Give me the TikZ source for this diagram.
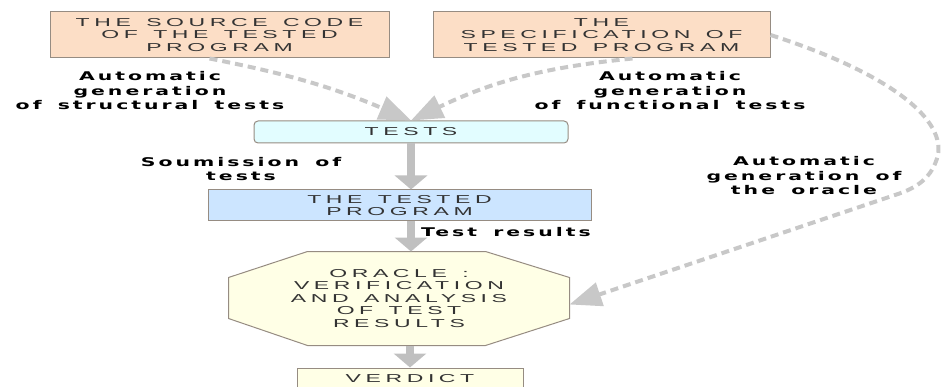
\documentclass[tikz,border=0pt]{standalone}
\usepackage{fontspec}
\setmainfont{Liberation Sans}
\newfontfamily\boxfont[FakeStretch=2.0,LetterSpace=40,WordSpace=1.4]{Liberation Sans}
\newfontfamily\labfont[FakeStretch=1.7,LetterSpace=25,WordSpace=1.6]{DejaVu Sans Bold}
\usetikzlibrary{arrows.meta,backgrounds}
\definecolor{peach}{RGB}{252,222,198}
\definecolor{iceblue}{RGB}{226,253,255}
\definecolor{progblue}{RGB}{204,229,255}
\definecolor{ivory}{RGB}{255,255,230}
\definecolor{boxline}{RGB}{150,140,130}
\definecolor{flowgray}{RGB}{192,192,192}
\definecolor{dashgray}{RGB}{200,200,200}
\begin{document}
\begin{tikzpicture}[x=1pt,y=-1pt]
  \tikzset{ box/.style={draw=boxline,line width=1pt,align=center,inner sep=0pt,text=black!80,
      font=\boxfont\fontsize{11.5}{12.5}\selectfont},
    lab/.style={align=center,inner sep=0pt,font=\labfont\fontsize{12}{14.5}\selectfont},
    flow/.style={line width=8pt,flowgray,-{Triangle[width=32pt,length=14pt]}},
    gen/.style={line width=4pt,dashgray,dash pattern=on 8pt off 5pt,-{Triangle[width=24pt,length=32pt]}},
  }
  \useasboundingbox (0,0) rectangle (941,387);

  \node (src) at (219.5,35) [box,fill=peach,minimum width=339pt,minimum height=46pt] {THE SOURCE CODE\\OF THE TESTED\\PROGRAM};
  \node (spec) at (601.5,35) [box,fill=peach,minimum width=337pt,minimum height=46pt] {THE\\SPECIFICATION OF\\TESTED PROGRAM};
  \node (tests) at (411,132) [box,fill=iceblue,rounded corners=4pt,minimum width=314pt,minimum height=22pt] {TESTS};
  \node (prog) at (399.5,205.5) [box,fill=progblue,minimum width=383pt,minimum height=31pt] {THE TESTED\\PROGRAM};
  \node (oracle) at (399,298.5) [box,draw=none,minimum width=340pt,minimum height=93pt] {ORACLE :\\VERIFICATION\\AND ANALYSIS\\OF TEST\\RESULTS};
  \node (verdict) at (410,379) [box,fill=ivory,minimum width=226pt,minimum height=22pt] {VERDICT};

  % octagon behind the oracle text
  \begin{scope}[on background layer]
    \draw[boxline,line width=1pt,fill=ivory]
      ([xshift=79pt]oracle.north west) -- ([xshift=-84pt]oracle.north east)
      -- ([yshift=-26pt]oracle.north east) -- ([yshift=27pt]oracle.south east)
      -- ([xshift=-84pt]oracle.south east) -- ([xshift=79pt]oracle.south west)
      -- ([yshift=27pt]oracle.south west) -- ([yshift=-26pt]oracle.north west) -- cycle;
  \end{scope}

  \node (labstruct) at (150,91) [lab] {Automatic\\generation\\of structural tests};
  \node (labfunc) at (670,91) [lab] {Automatic\\generation\\of functional tests};
  \node (labsub) at (241,169) [lab] {Soumission of\\tests};
  \node (laboracle) at (804,176) [lab] {Automatic\\generation of\\the oracle};
  \node (labres) at (421,232) [lab,anchor=west] {Test results};

  \draw[gen] ([xshift=-10pt]src.south) to[bend left=6] (tests.north);
  \draw[gen] ([xshift=31pt]spec.south) to[bend right=10] (tests.north);
  \draw[gen] (spec.east) .. controls (880,70) and (945,115) .. (938,155)
    .. controls (932,178) and (917,188) .. (895,195) -- ([yshift=-6pt]oracle.east);

  \draw[flow] (tests.south) -- (tests.south |- prog.north);
  \draw[flow] (tests.south |- prog.south) -- (tests.south |- oracle.north);
  \draw[flow] (verdict.north |- oracle.south) -- (verdict.north);
\end{tikzpicture}
\end{document}
